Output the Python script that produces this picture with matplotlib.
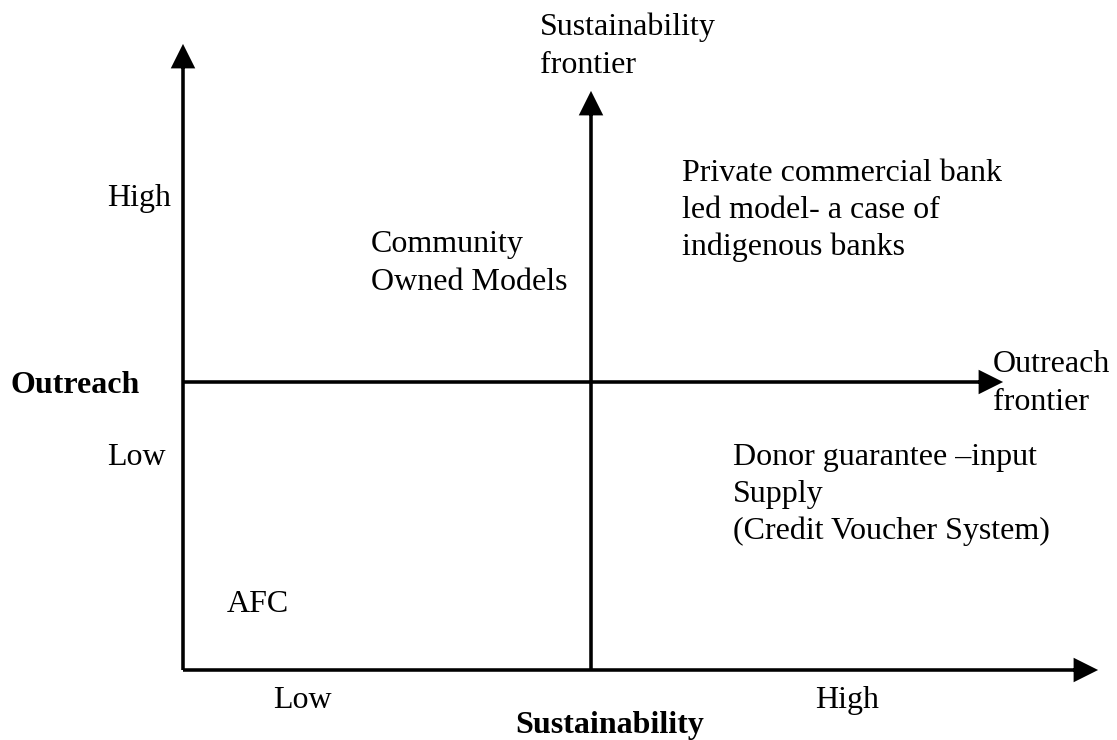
import matplotlib
matplotlib.use("Agg")
import matplotlib.pyplot as plt

# ---- content ----
quadrant_labels = [
    "Private commercial bank\nled model- a case of\nindigenous banks",
    "Community\nOwned Models",
    "Donor guarantee \u2013input\nSupply\n(Credit Voucher System)",
    "AFC",
]
y_axis_title = "Outreach"
x_axis_title = "Sustainability"
y_levels = ["High", "Low"]
x_levels = ["Low", "High"]
frontier_labels = ["Sustainability\nfrontier", "Outreach\nfrontier"]

# ---- layout (pixel coordinates) ----
W, H = 1117, 740
fig = plt.figure(figsize=(W / 100, H / 100), dpi=100)
ax = fig.add_axes([0, 0, 1, 1])
ax.set_xlim(0, W)
ax.set_ylim(H, 0)
ax.axis("off")

FONT = "Liberation Serif"
FS = 23
LS = 37  # line spacing in px
LW = 2.0
HL, HW = 20, 20


def arrow(x0, y0, x1, y1):
    ax.arrow(x0, y0, x1 - x0, y1 - y0, length_includes_head=True,
             head_width=HW, head_length=HL, width=0.0, lw=LW,
             fc="black", ec="black", overhang=0, joinstyle="miter")


def text(x, y, s, bold=False, spacing=LS):
    for i, line in enumerate(s.split("\n")):
        ax.text(x, y + i * spacing, line, fontsize=FS, family=FONT,
                fontweight="bold" if bold else "normal",
                ha="left", va="baseline", color="black")


# axes
arrow(183, 670, 183, 47)        # outreach axis
arrow(183, 670, 1095, 670)      # sustainability axis
arrow(591, 670, 591, 94)        # sustainability frontier
arrow(183, 382, 1000, 382)      # outreach frontier

# texts
text(540, 35, frontier_labels[0], spacing=38)
text(993, 372, frontier_labels[1], spacing=38)
text(682, 181, quadrant_labels[0], spacing=37)
text(371, 252, quadrant_labels[1], spacing=38)
text(733, 465, quadrant_labels[2], spacing=37)
text(227, 612, quadrant_labels[3])
text(107, 206, y_levels[0])
text(107, 465, y_levels[1])
text(10, 393, y_axis_title, bold=True)
text(273, 708, x_levels[0])
text(815, 708, x_levels[1])
text(515, 733, x_axis_title, bold=True)

fig.savefig("out.png", dpi=100)
